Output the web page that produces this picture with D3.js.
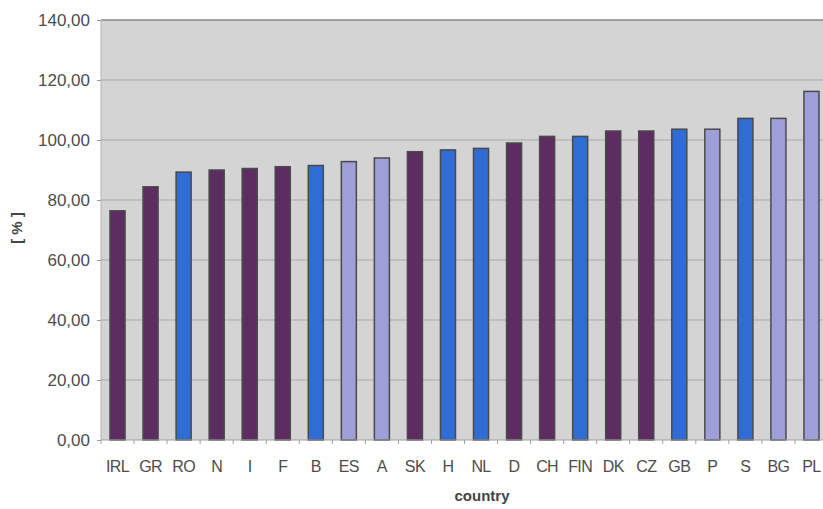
<!DOCTYPE html>
<html>
<head>
<meta charset="utf-8">
<script src="https://cdn.jsdelivr.net/npm/d3@7"></script>
<style>
  html, body { margin: 0; padding: 0; background: #ffffff; }
  svg { display: block; font-family: "Liberation Sans", Arial, sans-serif; }
</style>
</head>
<body>
<svg id="chart" width="823" height="509"></svg>
<script>
// Country codes, in the order drawn along the x axis
const countries = ["IRL", "GR", "RO", "N", "I", "F", "B", "ES", "A", "SK", "H", "NL",
                   "D", "CH", "FIN", "DK", "CZ", "GB", "P", "S", "BG", "PL"];
// Value per country, in percent
const values = [76.4, 84.4, 89.3, 90.0, 90.5, 91.1, 91.5, 92.8, 94.0, 96.1, 96.7, 97.2,
                99.0, 101.2, 101.2, 103.0, 103.0, 103.6, 103.6, 107.2, 107.2, 116.2];
// Colour group per country
const groups = ["a", "a", "b", "a", "a", "a", "b", "c", "c", "a", "b", "b",
                "a", "a", "b", "a", "a", "b", "c", "b", "c", "c"];
const yTicks = [0, 20, 40, 60, 80, 100, 120, 140];

const groupColor = { a: "#5d2c61", b: "#2f6cd4", c: "#9e9fd9" };

const svg = d3.select("#chart");
const plotL = 101, plotR = 828, plotT = 20, plotB = 440;

const x = d3.scaleBand()
  .domain(countries)
  .range([plotL, plotR])
  .paddingInner(0.545)
  .paddingOuter(0.2725);

const y = d3.scaleLinear().domain([0, 140]).range([plotB, plotT]);

const fmt = v => d3.format(".2f")(v).replace(".", ",");

// plot background
svg.append("rect")
  .attr("x", plotL).attr("y", plotT)
  .attr("width", plotR - plotL).attr("height", plotB - plotT)
  .attr("fill", "#d4d4d4");

// horizontal gridlines
svg.append("g")
  .selectAll("line")
  .data(yTicks.filter(t => t > 0 && t < 140))
  .join("line")
  .attr("x1", plotL).attr("x2", plotR)
  .attr("y1", d => y(d)).attr("y2", d => y(d))
  .attr("stroke", "#a9a9a9").attr("stroke-width", 1);

// top border
svg.append("line")
  .attr("x1", plotL).attr("x2", plotR)
  .attr("y1", plotT).attr("y2", plotT)
  .attr("stroke", "#8a8a8a").attr("stroke-width", 1.5);

// left border
svg.append("line")
  .attr("x1", plotL).attr("x2", plotL)
  .attr("y1", plotT).attr("y2", plotB)
  .attr("stroke", "#b0b0b0").attr("stroke-width", 1);

// bars
const idx = d3.range(countries.length);
svg.append("g")
  .selectAll("rect")
  .data(idx)
  .join("rect")
  .attr("x", i => x(countries[i]))
  .attr("y", i => y(values[i]))
  .attr("width", x.bandwidth())
  .attr("height", i => y(0) - y(values[i]))
  .attr("fill", i => groupColor[groups[i]])
  .attr("stroke", "#4a4a4a")
  .attr("stroke-width", 1.5);

// y axis
const yAxis = d3.axisLeft(y)
  .tickValues(yTicks)
  .tickFormat(fmt)
  .tickSize(4)
  .tickPadding(7);
const gy = svg.append("g")
  .attr("transform", `translate(${plotL},0)`)
  .call(yAxis);
gy.select(".domain").remove();
gy.selectAll(".tick line").attr("stroke", "#9a9a9a");
gy.selectAll(".tick text")
  .attr("fill", "#4d4d4d")
  .style("font-size", "17px");

// x axis: baseline with ticks between categories
svg.append("line")
  .attr("x1", plotL).attr("x2", plotR)
  .attr("y1", plotB).attr("y2", plotB)
  .attr("stroke", "#a0a0a0").attr("stroke-width", 1);

const step = x.step();
const firstEdge = x(countries[0]) + x.bandwidth() / 2 - step / 2;
svg.append("g")
  .selectAll("line")
  .data(d3.range(countries.length + 1))
  .join("line")
  .attr("x1", i => firstEdge + i * step)
  .attr("x2", i => firstEdge + i * step)
  .attr("y1", plotB).attr("y2", plotB + 4)
  .attr("stroke", "#a0a0a0");

svg.append("g")
  .selectAll("text")
  .data(countries)
  .join("text")
  .attr("x", d => x(d) + x.bandwidth() / 2)
  .attr("y", 472)
  .attr("text-anchor", "middle")
  .attr("fill", "#4d4d4d")
  .style("font-size", "16px")
  .style("letter-spacing", "-0.6px")
  .text(d => d);

// axis titles
svg.append("text")
  .attr("x", 482).attr("y", 501)
  .attr("text-anchor", "middle")
  .attr("fill", "#444")
  .style("font-size", "15px")
  .style("font-weight", "bold")
  .text("country");

svg.append("text")
  .attr("transform", "translate(22,228) rotate(-90)")
  .attr("text-anchor", "middle")
  .attr("fill", "#444")
  .style("font-size", "15px")
  .style("font-weight", "bold")
  .text("[ % ]");
</script>
</body>
</html>
